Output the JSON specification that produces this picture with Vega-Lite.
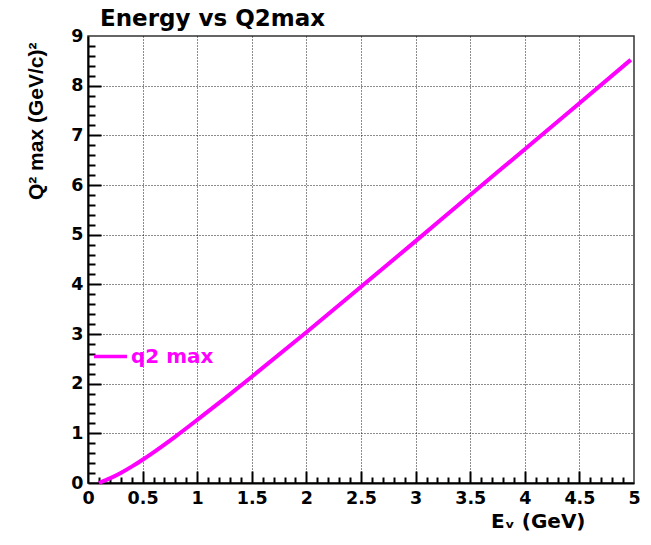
{
  "$schema": "https://vega.github.io/schema/vega-lite/v6.json",
  "width": 546,
  "height": 447,
  "autosize": {"type": "none"},
  "padding": {"left": 88, "top": 36, "right": 17, "bottom": 62},
  "background": "white",
  "title": {
    "text": "Energy vs Q2max",
    "font": "DejaVu Sans",
    "fontWeight": "bold",
    "fontSize": 23,
    "color": "#000",
    "anchor": "start",
    "frame": "group",
    "baseline": "alphabetic",
    "dx": 12,
    "dy": 31,
    "offset": 9
  },
  "data": {
    "values": [
      {"E": 0.1, "Q2": 0.0},
      {"E": 0.15, "Q2": 0.047},
      {"E": 0.2, "Q2": 0.093},
      {"E": 0.3, "Q2": 0.202},
      {"E": 0.4, "Q2": 0.329},
      {"E": 0.5, "Q2": 0.469},
      {"E": 0.6, "Q2": 0.618},
      {"E": 0.8, "Q2": 0.935},
      {"E": 1.0, "Q2": 1.27},
      {"E": 1.25, "Q2": 1.70},
      {"E": 1.5, "Q2": 2.14},
      {"E": 2.0, "Q2": 3.035},
      {"E": 2.5, "Q2": 3.95},
      {"E": 3.0, "Q2": 4.87},
      {"E": 3.5, "Q2": 5.80},
      {"E": 4.0, "Q2": 6.72},
      {"E": 4.5, "Q2": 7.645},
      {"E": 4.97, "Q2": 8.52}
    ]
  },
  "layer": [
    {
      "mark": {"type": "point", "opacity": 0},
      "encoding": {
        "x": {
          "field": "E", "type": "quantitative",
          "scale": {"domain": [0, 5], "nice": false, "zero": false},
          "axis": {
            "orient": "bottom",
            "values": [0.5,1,1.5,2,2.5,3,3.5,4,4.5],
            "ticks": false, "labels": false, "domain": false,
            "grid": true, "gridColor": "#000", "gridDash": [1, 2], "gridWidth": 1, "gridOpacity": 0.9,
            "title": null
          }
        },
        "y": {
          "field": "Q2", "type": "quantitative",
          "scale": {"domain": [0, 9], "nice": false},
          "axis": {
            "orient": "left",
            "values": [1,2,3,4,5,6,7,8],
            "ticks": false, "labels": false, "domain": false,
            "grid": true, "gridColor": "#000", "gridDash": [1, 2], "gridWidth": 1, "gridOpacity": 0.9,
            "title": null
          }
        }
      }
    },
    {
      "mark": {"type": "point", "opacity": 0},
      "encoding": {
        "x": {
          "field": "E", "type": "quantitative",
          "scale": {"domain": [0, 5], "nice": false, "zero": false},
          "axis": {
            "orient": "bottom",
            "offset": -6,
            "values": [0.1,0.2,0.3,0.4,0.6,0.7,0.8,0.9,1.1,1.2,1.3,1.4,1.6,1.7,1.8,1.9,2.1,2.2,2.3,2.4,2.6,2.7,2.8,2.9,3.1,3.2,3.3,3.4,3.6,3.7,3.8,3.9,4.1,4.2,4.3,4.4,4.6,4.7,4.8,4.9],
            "ticks": true, "tickSize": 6, "tickColor": "#000", "tickWidth": 2,
            "labels": true, "labelOpacity": 0, "labelFontSize": 1,
            "domain": true, "domainOpacity": 0,
            "grid": false, "title": null
          }
        },
        "y": {
          "field": "Q2", "type": "quantitative",
          "scale": {"domain": [0, 9], "nice": false},
          "axis": {
            "orient": "left",
            "offset": -7,
            "values": [0.2,0.4,0.6,0.8,1.2,1.4,1.6,1.8,2.2,2.4,2.6,2.8,3.2,3.4,3.6,3.8,4.2,4.4,4.6,4.8,5.2,5.4,5.6,5.8,6.2,6.4,6.6,6.8,7.2,7.4,7.6,7.8,8.2,8.4,8.6,8.8],
            "ticks": true, "tickSize": 7, "tickColor": "#000", "tickWidth": 2,
            "labels": true, "labelOpacity": 0, "labelFontSize": 1,
            "domain": true, "domainOpacity": 0,
            "grid": false, "title": null
          }
        }
      }
    },
    {
      "mark": {"type": "point", "opacity": 0},
      "encoding": {
        "x": {
          "field": "E", "type": "quantitative",
          "scale": {"domain": [0, 5], "nice": false, "zero": false},
          "axis": {
            "orient": "bottom",
            "offset": -12,
            "values": [0.5,1,1.5,2,2.5,3,3.5,4,4.5],
            "ticks": true, "tickSize": 12, "tickColor": "#000", "tickWidth": 2,
            "labels": true, "labelOpacity": 0, "labelFontSize": 1,
            "domain": true, "domainOpacity": 0,
            "grid": false, "title": null
          }
        },
        "y": {
          "field": "Q2", "type": "quantitative",
          "scale": {"domain": [0, 9], "nice": false},
          "axis": {
            "orient": "left",
            "offset": -13,
            "values": [1,2,3,4,5,6,7,8],
            "ticks": true, "tickSize": 13, "tickColor": "#000", "tickWidth": 2,
            "labels": true, "labelOpacity": 0, "labelFontSize": 1,
            "domain": true, "domainOpacity": 0,
            "grid": false, "title": null
          }
        }
      }
    },
    {
      "mark": {"type": "line", "strokeWidth": 4, "strokeCap": "butt", "interpolate": "monotone"},
      "encoding": {
        "x": {
          "field": "E", "type": "quantitative",
          "scale": {"domain": [0, 5], "nice": false, "zero": false},
          "axis": {
            "orient": "bottom",
            "values": [0,0.5,1,1.5,2,2.5,3,3.5,4,4.5,5],
            "format": "~g",
            "ticks": false, "tickSize": 0, "grid": false,
            "domain": true, "domainColor": "#000", "domainWidth": 2,
            "labelPadding": 6, "labelBaseline": "top",
            "labelFont": "DejaVu Sans", "labelFontWeight": "bold", "labelFontSize": 17.5, "labelColor": "#000",
            "labelFlush": false, "labelOverlap": false,
            "title": "Eᵥ (GeV)",
            "titleFont": "DejaVu Sans", "titleFontWeight": "bold", "titleFontSize": 20, "titleColor": "#000",
            "titleAlign": "right", "titleAnchor": null, "titleBaseline": "alphabetic",
            "titleX": 497, "titleY": 44
          }
        },
        "y": {
          "field": "Q2", "type": "quantitative",
          "scale": {"domain": [0, 9], "nice": false},
          "axis": {
            "orient": "left",
            "values": [0,1,2,3,4,5,6,7,8,9],
            "format": "~g",
            "ticks": false, "tickSize": 0, "grid": false,
            "domain": true, "domainColor": "#000", "domainWidth": 2,
            "labelPadding": 5, "labelBaseline": "middle",
            "labelFont": "DejaVu Sans", "labelFontWeight": "bold", "labelFontSize": 17.5, "labelColor": "#000",
            "labelFlush": false, "labelOverlap": false,
            "title": "Q² max (GeV/c)²",
            "titleFont": "Liberation Sans", "titleFontWeight": "bold", "titleFontSize": 21, "titleColor": "#000",
            "titleAngle": 270, "titleAlign": "right", "titleAnchor": null, "titleBaseline": "alphabetic",
            "titleX": -46, "titleY": 6
          }
        },
        "color": {
          "datum": "q2 max",
          "type": "nominal",
          "scale": {"range": ["#ff00ff"]},
          "legend": {
            "title": null,
            "orient": "none",
            "legendX": 4,
            "legendY": 302,
            "padding": 0,
            "symbolType": "stroke",
            "symbolSize": 1089,
            "symbolStrokeWidth": 3.5,
            "symbolStrokeColor": "#ff00ff",
            "labelFont": "DejaVu Sans",
            "labelFontWeight": "bold",
            "labelFontSize": 20,
            "labelColor": "#ff00ff",
            "labelOffset": 2
          }
        }
      }
    }
  ],
  "resolve": {"axis": {"x": "independent", "y": "independent"}},
  "config": {
    "view": {"stroke": "#333", "strokeWidth": 1.5}
  }
}
